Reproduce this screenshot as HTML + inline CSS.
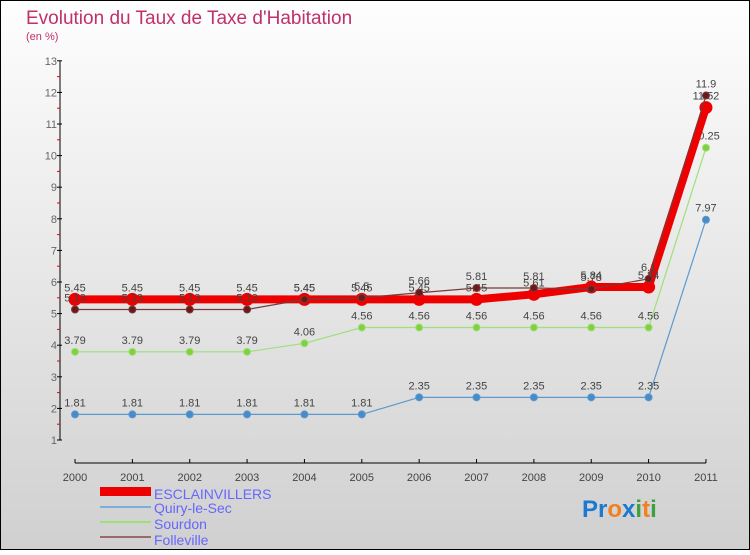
<!DOCTYPE html>
<html><head><meta charset="utf-8"><style>
body{margin:0}
#c{width:750px;height:550px;position:relative;font-family:"Liberation Sans",sans-serif}
</style></head><body>
<div id="c">
<svg id="s" width="750" height="550" xmlns="http://www.w3.org/2000/svg">
<defs><linearGradient id="bg" x1="0" y1="0" x2="0" y2="1"><stop offset="0" stop-color="#fefefe"/><stop offset="1" stop-color="#d0d0d0"/></linearGradient></defs>
<rect x="0.5" y="0.5" width="749" height="549" fill="url(#bg)" stroke="#000"/>
<text x="26" y="24" font-size="19" fill="#c0306a">Evolution du Taux de Taxe d'Habitation</text>
<text x="26" y="40" font-size="11" fill="#c0306a">(en %)</text>
<g id="axes"></g><g id="series"></g>
<g>
<rect x="100" y="487" width="51" height="9" fill="#e00"/>
<text x="154" y="499" font-size="14" fill="#66f">ESCLAINVILLERS</text>
<line x1="100" y1="507" x2="151" y2="507" stroke="#7aaedc" stroke-width="2"/>
<text x="154" y="513" font-size="14" fill="#66f">Quiry-le-Sec</text>
<line x1="100" y1="522" x2="151" y2="522" stroke="#9ee07a" stroke-width="2"/>
<text x="154" y="529" font-size="14" fill="#66f">Sourdon</text>
<line x1="100" y1="537" x2="151" y2="537" stroke="#9a6a6a" stroke-width="2"/>
<text x="154" y="545" font-size="14" fill="#66f">Folleville</text>
</g>
<text x="582" y="517" font-size="24" font-weight="bold"><tspan fill="#1a7ad0">Pr</tspan><tspan fill="#f08020">o</tspan><tspan fill="#1a7ad0">x</tspan><tspan fill="#40a040">i</tspan><tspan fill="#f08020">t</tspan><tspan fill="#40a040">i</tspan></text>
</svg></div>
<script>
const years=["2000","2001","2002","2003","2004","2005","2006","2007","2008","2009","2010","2011"];
const yTicks=[1,2,3,4,5,6,7,8,9,10,11,12,13];
const esclainvillers=[5.45,5.45,5.45,5.45,5.45,5.45,5.45,5.45,5.61,5.84,5.84,11.52];
const quiry=[1.81,1.81,1.81,1.81,1.81,1.81,2.35,2.35,2.35,2.35,2.35,7.97];
const sourdon=[3.79,3.79,3.79,3.79,4.06,4.56,4.56,4.56,4.56,4.56,4.56,10.25];
const folleville=[5.13,5.13,5.13,5.13,5.45,5.5,5.66,5.81,5.81,5.78,6.1,11.9];
const NS="http://www.w3.org/2000/svg";
const X=i=>75+i*57.36, Y=v=>440-(v-1)*31.6;
function mk(t,a,p){const e=document.createElementNS(NS,t);for(const k in a)e.setAttribute(k,a[k]);p.appendChild(e);return e;}
const ax=document.getElementById('axes');
let yl=mk('line',{x1:60,y1:Y(13),x2:60,y2:Y(1),stroke:'#000'},ax);


yTicks.forEach(v=>{
 mk('line',{x1:57,y1:Y(v),x2:62,y2:Y(v),stroke:'#000'},ax);
 if(v<13)mk('line',{x1:57,y1:Y(v+0.5),x2:60,y2:Y(v+0.5),stroke:'#e00'},ax);
 const t=mk('text',{x:57,y:Y(v)+4,'font-size':11,fill:'#666','text-anchor':'end'},ax);t.textContent=v;
 
 
});
let xl=mk('line',{x1:X(0),y1:463,x2:X(11),y2:463,stroke:'#000'},ax);


years.forEach((y,i)=>{
 mk('line',{x1:X(i),y1:459,x2:X(i),y2:463,stroke:'#000'},ax);
 const t=mk('text',{x:X(i),y:481,'font-size':11,fill:'#444','text-anchor':'middle'},ax);t.textContent=y;
 
 
});
const sg=document.getElementById('series');
function draw(name,vals,col,w,r,dot){
 const g=mk('g',{},sg);
 
 
 mk('polyline',{points:vals.map((v,i)=>X(i)+','+Y(v)).join(' '),fill:'none',stroke:col,'stroke-width':w},g);
 vals.forEach((v,i)=>{
  const c=mk('circle',{cx:X(i),cy:Y(v),r:r,fill:dot,stroke:col,'stroke-width':1},g);
  
  
  const t=mk('text',{x:X(i),y:Y(v)-8,'font-size':11,fill:'#444','text-anchor':'middle'},g);t.textContent=v;
 });
}
draw('quiry',quiry,'#5a9ad0',1.2,3.5,'#4a8ac8');
draw('sourdon',sourdon,'#9ee07a',1.2,3.5,'#80d040');
draw('esclainvillers',esclainvillers,'#ee0000',8,6,'#ee0000');
draw('folleville',folleville,'#7a3a3a',1.2,3.5,'#6a1a1a');
</script>
</body></html>
